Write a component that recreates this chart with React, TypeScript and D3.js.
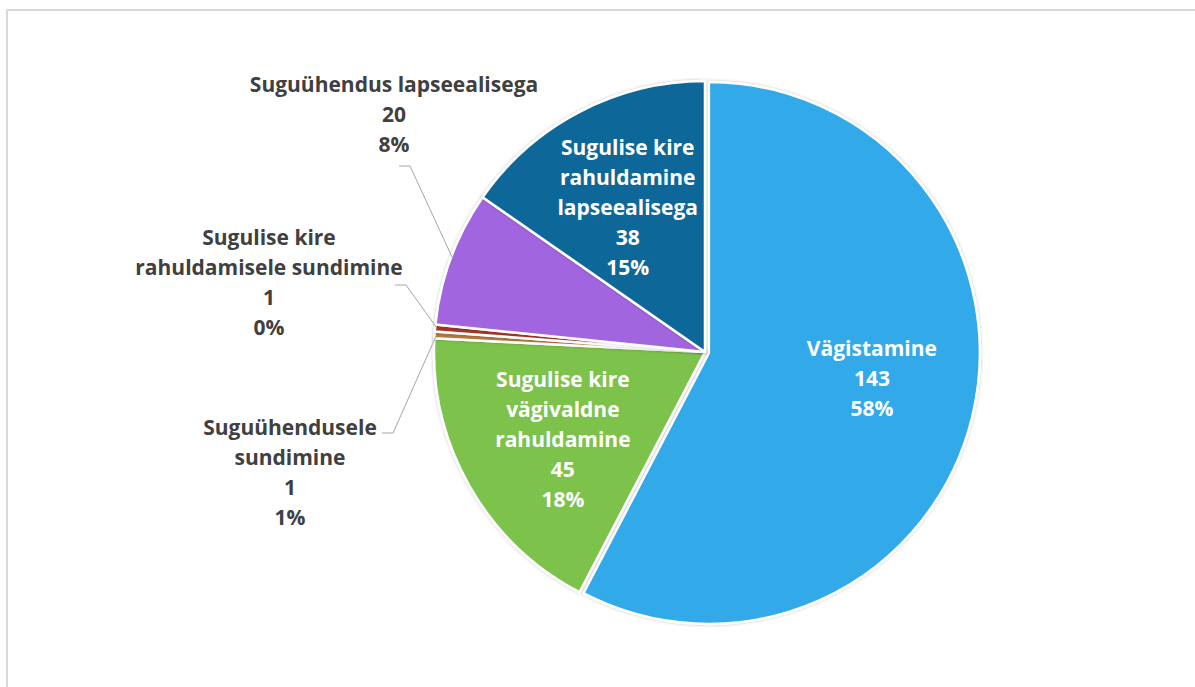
import React from "react";
import * as d3 from "d3";

// categories, clockwise from 12 o'clock
const categories = [
  "Vägistamine",
  "Sugulise kire vägivaldne rahuldamine",
  "Suguühendusele sundimine",
  "Sugulise kire rahuldamisele sundimine",
  "Suguühendus lapseealisega",
  "Sugulise kire rahuldamine lapseealisega",
];
const counts = [143, 45, 1, 1, 20, 38];
const percentLabels = ["58%", "18%", "1%", "0%", "8%", "15%"];
// label lines as they are broken in the chart
const labelLines = [
  ["Vägistamine"],
  ["Sugulise kire", "vägivaldne", "rahuldamine"],
  ["Suguühendusele", "sundimine"],
  ["Sugulise kire", "rahuldamisele sundimine"],
  ["Suguühendus lapseealisega"],
  ["Sugulise kire", "rahuldamine", "lapseealisega"],
];
const colors = ["#31a9e9", "#7dc24b", "#b5773a", "#a3362c", "#a265e0", "#0f6899"];
const inside = [true, true, false, false, false, true];

// inside label nudges (px) from the arc centroid
const insideNudge = {
  0: [9, -12],
  1: [-1, 7],
  5: [-2, 0],
};
// outside label placement: text centre x, first line y, leader elbow
const outsideLayout = {
  2: { x: 290, y: 428, elbow: [382, 433], tx: 393 },
  3: { x: 269, y: 238, elbow: [395, 285], tx: 406 },
  4: { x: 394, y: 85, elbow: [399, 166], tx: 410 },
};

const W = 1195;
const H = 687;
const cx = 705;
const cy = 352;
const R = 271;
const LINE = 30;
const FS = 21;

export default function App() {
  const pie = d3.pie<number>().sort(null).value((d) => d);
  const arcs = pie(counts);
  const arc = d3.arc<d3.PieArcDatum<number>>().innerRadius(0).outerRadius(R);
  const labelArc = d3.arc<d3.PieArcDatum<number>>().innerRadius(R * 0.6).outerRadius(R * 0.6);
  const font = "'Open Sans', Lato, sans-serif";

  return (
    <svg
      width={W}
      height={H}
      style={{ position: "absolute", left: 0, top: 0, background: "#fff" }}
      fontFamily={font}
      fontWeight="bold"
    >
      <rect x={7} y={10} width={W} height={H} fill="#fff" stroke="#d9d9d9" strokeWidth={2} />
      <defs>
        <filter id="sh" x="-10%" y="-10%" width="120%" height="120%">
          <feDropShadow dx="0" dy="0" stdDeviation="1.5" floodColor="#000" floodOpacity="0.25" />
        </filter>
      </defs>
      <g transform={`translate(${cx},${cy})`}>
        {arcs.map((a, i) => {
          const mid = (a.startAngle + a.endAngle) / 2;
          const off = i === 0 ? 4 : 0;
          const dx = Math.sin(mid) * off;
          const dy = -Math.cos(mid) * off;
          return (
            <path
              key={i}
              d={arc(a) || ""}
              transform={`translate(${dx},${dy})`}
              fill={colors[i]}
              stroke="#fff"
              strokeWidth={2.5}
              strokeLinejoin="round"
              filter="url(#sh)"
            />
          );
        })}
        {arcs.map((a, i) => {
          if (!inside[i]) return null;
          const [c0, c1] = labelArc.centroid(a);
          const nudge = insideNudge[i] || [0, 0];
          const lx = c0 + nudge[0];
          const ly = c1 + nudge[1];
          const lines = [...labelLines[i], String(counts[i]), percentLabels[i]];
          const y0 = ly - ((lines.length - 1) * LINE) / 2;
          return (
            <text key={i} fill="#fff" fontSize={FS} textAnchor="middle">
              {lines.map((t, k) => (
                <tspan key={k} x={lx} y={y0 + k * LINE} dy="0.35em">
                  {t}
                </tspan>
              ))}
            </text>
          );
        })}
      </g>
      {arcs.map((a, i) => {
        if (inside[i]) return null;
        const lay = outsideLayout[i];
        const mid = (a.startAngle + a.endAngle) / 2;
        const px = cx + Math.sin(mid) * (R - 2);
        const py = cy - Math.cos(mid) * (R - 2);
        const lines = [...labelLines[i], String(counts[i]), percentLabels[i]];
        return (
          <g key={i}>
            <polyline
              points={`${lay.elbow[0]},${lay.elbow[1]} ${lay.tx},${lay.elbow[1]} ${px},${py}`}
              fill="none"
              stroke="#a6a6a6"
              strokeWidth={1}
            />
            <text fill="#404040" fontSize={FS} textAnchor="middle">
              {lines.map((t, k) => (
                <tspan key={k} x={lay.x} y={lay.y + k * LINE} dy="0.35em">
                  {t}
                </tspan>
              ))}
            </text>
          </g>
        );
      })}
    </svg>
  );
}
